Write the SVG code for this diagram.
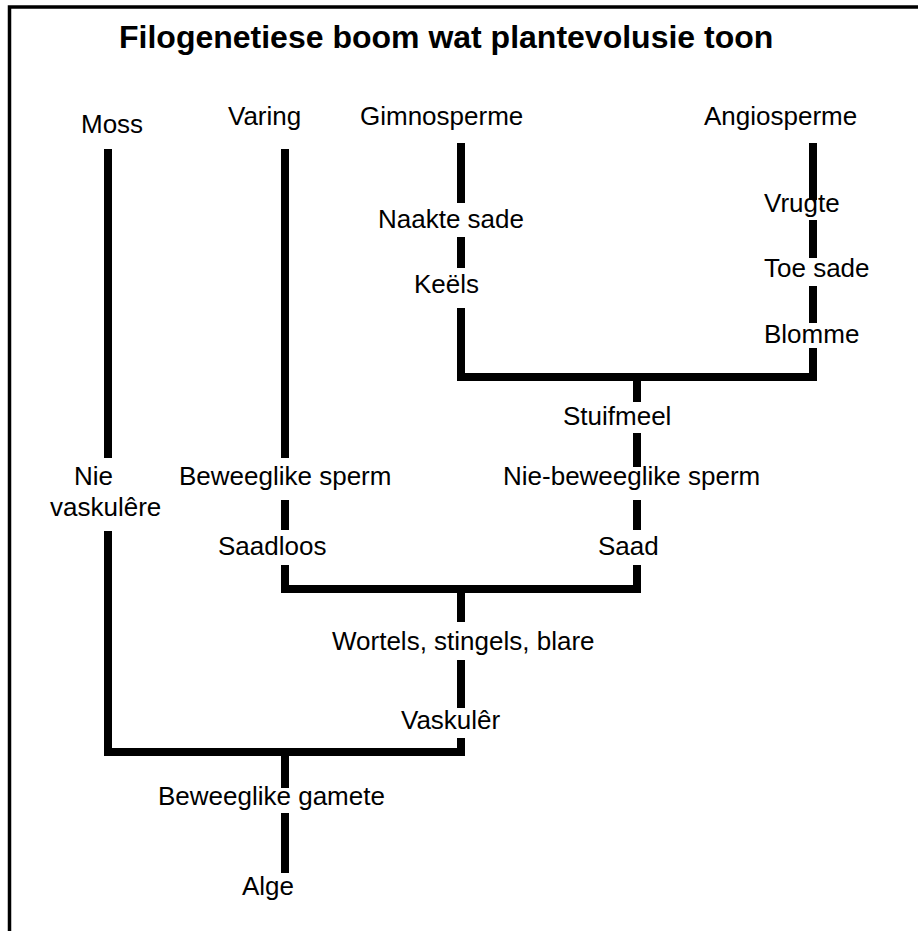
<svg xmlns="http://www.w3.org/2000/svg" width="918" height="931" viewBox="0 0 918 931">
<style>
  .lbl { font-family: "Liberation Sans", Arial, sans-serif; font-size: 26px; fill: #000; }
  .title { font-family: "Liberation Sans", Arial, sans-serif; font-size: 32px; font-weight: bold; fill: #000; }
  .br { fill: none; stroke: #000; stroke-width: 8; stroke-linecap: butt; stroke-linejoin: miter; }
  .frame { fill: none; stroke: #000; stroke-width: 3.5; }
</style>
<rect x="0" y="0" width="918" height="931" fill="#fff"/>
<g id="frame">
  <path class="frame" d="M9.5,931 L9.5,7 L918,7"/>
</g>
<text id="title" class="title" x="119" y="48">Filogenetiese boom wat plantevolusie toon</text>
<g id="connectors">
  <!-- Moss -->
  <path class="br" d="M108,149 L108,458"/>
  <path class="br" d="M108,531 L108,752 L461,752 L461,738"/>
  <!-- Varing -->
  <path class="br" d="M285,149 L285,458"/>
  <path class="br" d="M285,500 L285,530"/>
  <path class="br" d="M285,565 L285,589 L637,589 L637,565"/>
  <!-- Gimnosperme -->
  <path class="br" d="M461,143 L461,203"/>
  <path class="br" d="M461,237 L461,268"/>
  <path class="br" d="M461,308 L461,377 L813,377 L813,348"/>
  <!-- Angiosperme -->
  <path class="br" d="M813,143 L813,200"/>
  <path class="br" d="M813,220 L813,258"/>
  <path class="br" d="M813,286 L813,323"/>
  <!-- Saadplante stem -->
  <path class="br" d="M637,377 L637,402"/>
  <path class="br" d="M637,433 L637,467"/>
  <path class="br" d="M637,500 L637,530"/>
  <!-- Vaskulêr stem -->
  <path class="br" d="M461,589 L461,622"/>
  <path class="br" d="M461,660 L461,708"/>
  <!-- Root stem -->
  <path class="br" d="M285,752 L285,788"/>
  <path class="br" d="M285,813 L285,873"/>
</g>
<g id="moss"><text class="lbl" x="81" y="133">Moss</text></g>
<g id="varing"><text class="lbl" x="228" y="125">Varing</text></g>
<g id="gimnosperme"><text class="lbl" x="360" y="125">Gimnosperme</text></g>
<g id="angiosperme"><text class="lbl" x="704" y="125">Angiosperme</text></g>
<g id="naakte-sade"><text class="lbl" x="378" y="228">Naakte sade</text></g>
<g id="keels"><text class="lbl" x="414" y="293">Keëls</text></g>
<g id="vrugte"><text class="lbl" x="764" y="212">Vrugte</text></g>
<g id="toe-sade"><text class="lbl" x="764" y="277">Toe sade</text></g>
<g id="blomme"><text class="lbl" x="764" y="343">Blomme</text></g>
<g id="stuifmeel"><text class="lbl" x="563" y="425">Stuifmeel</text></g>
<g id="nie-beweeglike-sperm"><text class="lbl" x="503" y="485">Nie-beweeglike sperm</text></g>
<g id="saad"><text class="lbl" x="598" y="555">Saad</text></g>
<g id="nie-vaskulere"><text class="lbl" x="74" y="485">Nie</text><text class="lbl" x="50" y="516">vaskulêre</text></g>
<g id="beweeglike-sperm"><text class="lbl" x="179" y="485">Beweeglike sperm</text></g>
<g id="saadloos"><text class="lbl" x="218" y="555">Saadloos</text></g>
<g id="wortels"><text class="lbl" x="332" y="650">Wortels, stingels, blare</text></g>
<g id="vaskuler"><text class="lbl" x="401" y="729">Vaskulêr</text></g>
<g id="beweeglike-gamete"><text class="lbl" x="158" y="805">Beweeglike gamete</text></g>
<g id="alge"><text class="lbl" x="242" y="895">Alge</text></g>
</svg>
